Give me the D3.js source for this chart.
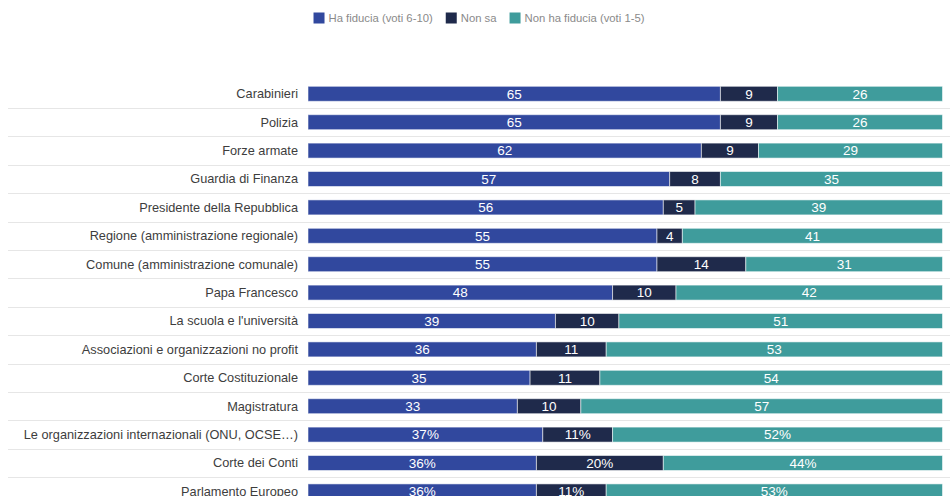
<!DOCTYPE html>
<html>
<head>
<meta charset="utf-8">
<script src="https://cdn.jsdelivr.net/npm/d3@7"></script>
<style>
  html, body { margin: 0; padding: 0; background: #fff; }
  svg { display: block; font-family: "Liberation Sans", Arial, Helvetica, sans-serif; }
</style>
</head>
<body>
<svg id="chart" width="950" height="496"></svg>
<script>
// Fiducia nelle istituzioni (valori in %)
const categories = [
  "Carabinieri",
  "Polizia",
  "Forze armate",
  "Guardia di Finanza",
  "Presidente della Repubblica",
  "Regione (amministrazione regionale)",
  "Comune (amministrazione comunale)",
  "Papa Francesco",
  "La scuola e l'università",
  "Associazioni e organizzazioni no profit",
  "Corte Costituzionale",
  "Magistratura",
  "Le organizzazioni internazionali (ONU, OCSE…)",
  "Corte dei Conti",
  "Parlamento Europeo"
];
const trust     = [65, 65, 62, 57, 56, 55, 55, 48, 39, 36, 35, 33, 37, 36, 36];
const dontKnow  = [ 9,  9,  9,  8,  5,  4, 14, 10, 10, 11, 11, 10, 11, 20, 11];
const noTrust   = [26, 26, 29, 35, 39, 41, 31, 42, 51, 53, 54, 57, 52, 44, 53];
// rows whose value labels are written with a percent sign
const percentLabelled = [
  "Le organizzazioni internazionali (ONU, OCSE…)",
  "Corte dei Conti",
  "Parlamento Europeo"
];

const seriesNames  = ["Ha fiducia (voti 6-10)", "Non sa", "Non ha fiducia (voti 1-5)"];
const seriesColors = ["#31489e", "#1f2a4b", "#3f9c9c"];

const rows = categories.map((c, i) => ({
  category: c, trust: trust[i], dontKnow: dontKnow[i], noTrust: noTrust[i]
}));
const keys = ["trust", "dontKnow", "noTrust"];
const stacked = d3.stack().keys(keys)(rows);

const svg = d3.select("#chart");
const W = 950;

const x = d3.scaleLinear().domain([0, 100]).range([308, 942.5]);
const step = 28.4;
const y = d3.scaleBand()
  .domain(categories)
  .range([79.6, 79.6 + step * categories.length])
  .paddingInner(0.472)
  .paddingOuter(0.236);

// row separators
svg.append("g")
  .selectAll("line")
  .data(categories.slice(1))
  .join("line")
  .attr("x1", 8).attr("x2", W)
  .attr("y1", d => Math.round(y(d) - (step - y.bandwidth()) / 2) + 0.5)
  .attr("y2", d => Math.round(y(d) - (step - y.bandwidth()) / 2) + 0.5)
  .attr("stroke", "#e6e6e6")
  .attr("stroke-width", 1);

// category labels
svg.append("g")
  .selectAll("text")
  .data(categories)
  .join("text")
  .attr("x", 298)
  .attr("y", d => y(d) + y.bandwidth() / 2)
  .attr("dy", "0.35em")
  .attr("text-anchor", "end")
  .attr("font-size", 12.75)
  .attr("fill", "#3d3d3d")
  .text(d => d);

// stacked bars
const layers = svg.append("g")
  .selectAll("g")
  .data(stacked)
  .join("g")
  .attr("fill", (d, i) => seriesColors[i]);

layers.selectAll("rect")
  .data(d => d)
  .join("rect")
  .attr("x", d => x(d[0]))
  .attr("y", d => y(d.data.category))
  .attr("width", d => x(d[1]) - x(d[0]))
  .attr("height", y.bandwidth())
  .attr("stroke", "rgba(255,255,255,0.55)")
  .attr("stroke-width", 1);

// value labels
layers.selectAll("text")
  .data(d => d.map(p => ({ p, key: d.key })))
  .join("text")
  .attr("x", d => (x(d.p[0]) + x(d.p[1])) / 2)
  .attr("y", d => y(d.p.data.category) + y.bandwidth() / 2)
  .attr("dy", "0.36em")
  .attr("text-anchor", "middle")
  .attr("font-size", 13.5)
  .attr("fill", "#fff")
  .text(d => {
    const v = d.p.data[d.key];
    return percentLabelled.includes(d.p.data.category) ? v + "%" : v;
  });

// legend
const legend = svg.append("g");
const items = legend.selectAll("g")
  .data(seriesNames)
  .join("g");
items.append("rect")
  .attr("width", 11).attr("height", 11)
  .attr("y", 12.5)
  .attr("fill", (d, i) => seriesColors[i]);
items.append("text")
  .attr("x", 15)
  .attr("y", 18)
  .attr("dy", "0.35em")
  .attr("font-size", 11.3)
  .attr("fill", "#8a8a8a")
  .text(d => d);

let cursor = 0;
const offsets = [];
items.each(function () {
  offsets.push(cursor);
  const tw = d3.select(this).select("text").node().getComputedTextLength();
  cursor += 15 + tw + 13;
});
const total = cursor - 13;
const startX = 479 - total / 2;
items.attr("transform", (d, i) => `translate(${startX + offsets[i]},0)`);
</script>
</body>
</html>
